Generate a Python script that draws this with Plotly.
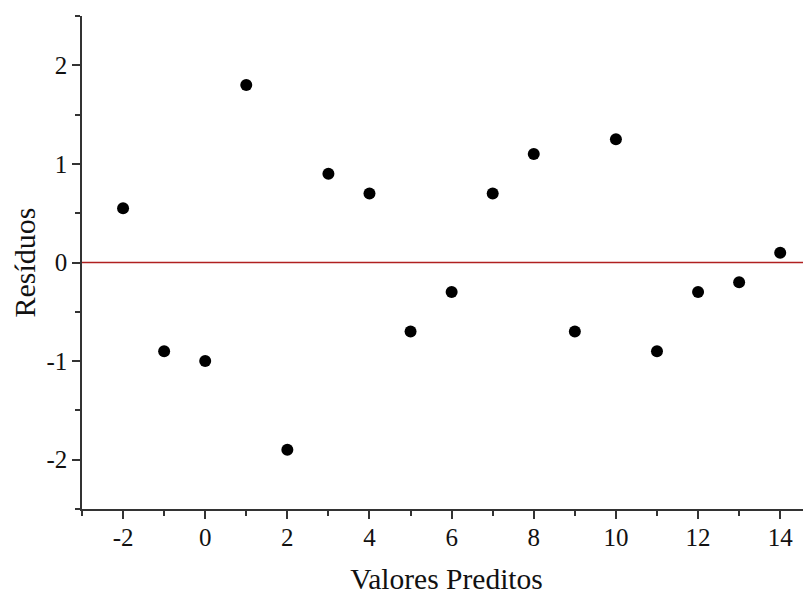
import plotly.graph_objects as go

x_vals = [-2, -1, 0, 1, 2, 3, 4, 5, 6, 7, 8, 9, 10, 11, 12, 13, 14]
residuals = [0.55, -0.9, -1.0, 1.8, -1.9, 0.9, 0.7, -0.7, -0.3, 0.7, 1.1, -0.7, 1.25, -0.9, -0.3, -0.2, 0.1]
x_tickvals = [-2, 0, 2, 4, 6, 8, 10, 12, 14]
x_ticktext = ["-2", "0", "2", "4", "6", "8", "10", "12", "14"]
y_tickvals = [-2, -1, 0, 1, 2]
y_ticktext = ["-2", "-1", "0", "1", "2"]
x_title = "Valores Preditos"
y_title = "Resíduos"

fig = go.Figure()
fig.add_trace(go.Scatter(x=x_vals, y=residuals, mode="markers",
                         marker=dict(color="black", size=12), showlegend=False,
                         cliponaxis=False))
fig.add_shape(type="line", xref="paper", yref="y", x0=0, x1=1, y0=0, y1=0,
              line=dict(color="#b02020", width=1.5))

font = "Liberation Serif, Times New Roman, serif"
axis_common = dict(ticks="outside", ticklen=8, tickwidth=1.5, tickcolor="#333",
                   showline=True, linecolor="#333", linewidth=1.5, showgrid=False,
                   zeroline=False, automargin=False,
                   tickfont=dict(size=25, family=font, color="#111"))
# the page body adds an 8px offset, so the figure is sized to fit the window
fig.update_layout(
    width=803, height=587,
    margin=dict(l=74, r=0, t=8, b=86),
    paper_bgcolor="white", plot_bgcolor="white",
    font=dict(family=font, color="#111"),
    xaxis=dict(range=[-3, 14.75], tickmode="array", tickvals=x_tickvals, ticktext=x_ticktext,
               ticklabelstandoff=-3,
               title=dict(text=x_title, font=dict(size=29.5, family=font, color="#111"),
                          standoff=30),
               minor=dict(dtick=1, tick0=0, ticks="outside", ticklen=5, tickwidth=1.5,
                          tickcolor="#333", showgrid=False),
               **axis_common),
    yaxis=dict(range=[-2.5, 2.5], tickmode="array", tickvals=y_tickvals, ticktext=y_ticktext,
               title=dict(text=y_title, font=dict(size=30, family=font, color="#111")),
               minor=dict(dtick=0.5, tick0=0, ticks="outside", ticklen=5, tickwidth=1.5,
                          tickcolor="#333", showgrid=False),
               **axis_common),
)
fig.write_html("out.html")
